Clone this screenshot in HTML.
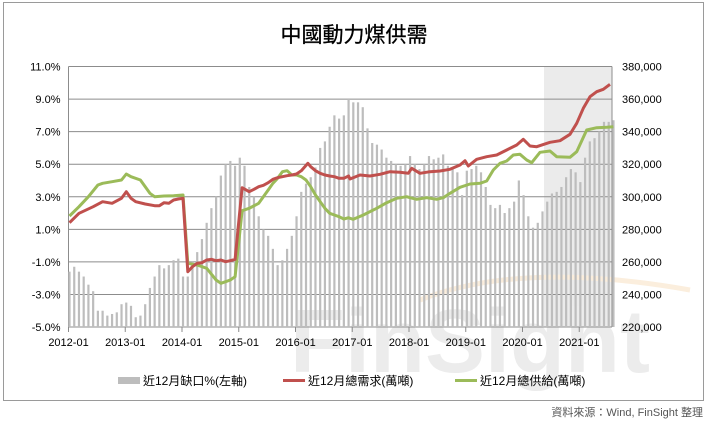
<!DOCTYPE html>
<html><head><meta charset="utf-8"><style>
body{margin:0;background:#fff;width:708px;height:424px;overflow:hidden;font-family:"Liberation Sans","Noto Sans CJK TC",sans-serif}
</style></head><body>
<svg id="s" width="708" height="424" xmlns="http://www.w3.org/2000/svg" font-family="Liberation Sans, Noto Sans CJK TC, sans-serif">
<rect x="3.5" y="2.5" width="700" height="398" fill="#fff" stroke="#9a9a9a"/>
<rect x="544" y="66.5" width="68" height="260.5" fill="#ebebeb"/>
<path d="M420 300 Q520 260 690 290" fill="none" stroke="#fbeedd" stroke-width="5"/>
<text x="470" y="372" font-size="90" font-weight="bold" fill="#ececec" text-anchor="middle">FinSight</text>
<text x="354" y="42" font-size="21" text-anchor="middle" fill="#000" stroke="#000" stroke-width="0.3">中國動力煤供需</text>
<g id="grid"></g><g id="bars"></g><g id="lines"></g><g id="lab" font-size="11" fill="#000"></g>
<rect x="118" y="377" width="22" height="7" fill="#bdbdbd"/>
<text x="143" y="385" font-size="12">近12月缺口%(左軸)</text>
<line x1="283" y1="380.5" x2="305" y2="380.5" stroke="#c0504d" stroke-width="3"/>
<text x="308" y="385" font-size="12">近12月總需求(萬噸)</text>
<line x1="455" y1="380.5" x2="477" y2="380.5" stroke="#9bbb59" stroke-width="3"/>
<text x="480" y="385" font-size="12">近12月總供給(萬噸)</text>
<text x="703" y="416" font-size="11" fill="#555" text-anchor="end">資料來源：Wind, FinSight 整理</text>
</svg>
<script>
var NS="http://www.w3.org/2000/svg";
function el(p,t,a,txt){var e=document.createElementNS(NS,t);for(var k in a)e.setAttribute(k,a[k]);if(txt)e.textContent=txt;document.getElementById(p).appendChild(e);}
var L=68.5,R=612,T=66.5,B=327,H=B-T;
for(var i=0;i<=8;i++){var y=T+i*H/8;el("grid","line",{x1:L,x2:R,y1:y,y2:y,stroke:"#8c8c8c","stroke-width":1});
el("lab","text",{x:L-8,y:y+4,"text-anchor":"end"},(11-2*i).toFixed(1)+"%");
el("lab","text",{x:R+10,y:y+4},(380-20*i)+",000");}
el("grid","line",{x1:L,x2:L,y1:T,y2:B,stroke:"#8c8c8c"});
el("grid","line",{x1:R,x2:R,y1:T,y2:B,stroke:"#8c8c8c"});
var yrs=["2012-01","2013-01","2014-01","2015-01","2016-01","2017-01","2018-01","2019-01","2020-01","2021-01"];
for(var i=0;i<10;i++){var x=L+i*56.75;el("grid","line",{x1:x,x2:x,y1:B,y2:B+5,stroke:"#8c8c8c"});
el("lab","text",{x:x,y:B+19,"text-anchor":"middle"},yrs[i]);}
var bars=[-1.6,-1.3,-1.6,-1.9,-2.4,-2.8,-4.0,-4.0,-4.3,-4.2,-4.1,-3.6,
-3.5,-3.7,-4.4,-4.3,-3.6,-2.6,-1.9,-1.2,-1.4,-1.2,-0.9,-0.8,
-1.9,-1.9,-1.0,-0.4,0.4,1.4,2.3,3.0,4.3,5.0,5.2,4.9,
5.4,4.9,3.6,3.0,1.8,1.0,0.6,-0.2,-1.2,-0.9,-0.2,0.6,
1.8,3.3,3.8,4.2,4.8,6.0,6.4,7.3,8.0,7.8,8.0,9.0,
8.8,8.8,8.5,7.2,6.3,6.2,5.9,5.4,5.2,5.0,4.9,5.0,
5.5,5.0,4.7,5.0,5.5,5.3,5.4,5.6,4.9,4.7,4.5,3.1,
4.6,4.7,4.9,4.5,3.6,2.5,2.3,2.5,2.0,2.3,2.7,4.0,
3.1,1.8,1.1,1.4,2.1,2.7,3.2,3.3,3.6,4.2,4.7,4.5,
3.9,5.4,6.4,6.6,7.0,7.6,7.6,7.7];
var bw=4.73;
for(var i=0;i<bars.length;i++){var v=bars[i];var yv=B-(v+5)*H/16;var x=69.5+i*bw;
el("bars","rect",{x:x-1.1,y:yv,width:2.2,height:B-yv,fill:"#bdbdbd"});}
var red1=[[0,518],[2,490],[5,470],[7,455],[9,460],[11,445],[12,425],[13,445],[14,455],[16,462],[18,467],[19,467],[20,458],[21,460],[22,450],[23,447],[24,445],[25,665],[26,650],[27,640],[28,638],[29,630],[30,628],[31,632],[32,630],[33,635],[34,632],[35,628],[36.5,413],[38,425],[39,418],[40,410],[41,406],[42,398],[43,388],[44,383],[45,380],[46,377],[47,375],[48,372],[49,362],[50.4,340],[51,350],[52,362],[53,370],[54,375],[55,378],[56,380],[57,385],[58,385],[59,378]];
var red2=[[0,387],[30,375],[60,378],[90,373],[120,365],[150,367],[175,370],[185,355],[210,370],[240,365],[270,363],[300,358],[330,345],[345,332],[355,348],[380,328],[410,320],[440,315],[470,300],[500,285],[520,268],[540,288],[560,290],[600,277],[630,272],[660,253],[680,220],[700,175],[720,140],[740,125],[760,118],[780,103]];
var g1=[[0,498],[2,470],[4,440],[6,405],[7,400],[9,395],[11,390],[12,372],[13,380],[15,390],[17,430],[18,440],[20,438],[22,437],[24,435],[25,640],[27,645],[29,655],[31,690],[32,700],[33,695],[34,690],[35,680],[36.5,482],[38,475],[40,460],[42,420],[43,400],[44,385],[45,365],[46,362],[47,375],[48,375],[49,380],[50,390],[51,410],[52,435],[53,455],[54,475],[55,490],[56,495],[57,500],[58,507],[59,503]];
var g2=[[0,505],[10,508],[40,495],[80,475],[110,458],[140,445],[170,440],[180,443],[200,448],[230,443],[260,448],[280,443],[300,430],[330,412],[360,402],[390,400],[410,393],[430,360],[450,340],[470,333],[490,315],[510,313],[530,330],[545,338],[570,307],[600,303],[620,320],[660,322],[680,305],[710,240],[740,233],[770,232],[790,230]];
function pts(a,b){var s=[];a.forEach(function(p){s.push((69.5+p[0]*bw).toFixed(1)+","+(50+p[1]/3).toFixed(1));});
b.forEach(function(p){s.push((350+p[0]/3).toFixed(1)+","+(50+p[1]/3).toFixed(1));});return s.join(" ");}
el("lines","polyline",{points:pts(g1,g2),fill:"none",stroke:"#9bbb59","stroke-width":3,"stroke-linejoin":"round"});
el("lines","polyline",{points:pts(red1,red2),fill:"none",stroke:"#c0504d","stroke-width":3,"stroke-linejoin":"round"});
</script>
</body></html>
